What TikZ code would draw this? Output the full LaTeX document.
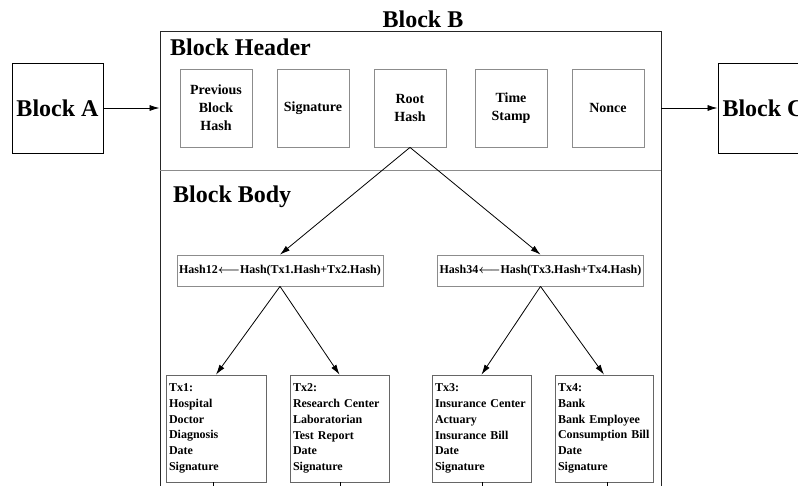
\documentclass[tikz,border=0pt]{standalone}
\usepackage{fontspec}
\setmainfont{Liberation Serif}
\usetikzlibrary{arrows.meta}
\begin{document}
\begin{tikzpicture}[x=1pt,y=-1pt,
  big/.style={font=\fontsize{24}{28}\selectfont\bfseries},
  blk/.style={draw=black,line width=0.9pt,minimum width=91pt,minimum height=90pt,inner sep=0pt,font=\fontsize{24}{28}\selectfont\bfseries},
  hdr/.style={draw=black!45,line width=0.8pt,minimum width=72pt,minimum height=78pt,inner sep=0pt,align=center,font=\fontsize{14}{18}\selectfont\bfseries},
  hsh/.style={draw=black!45,line width=0.8pt,minimum width=206pt,minimum height=31pt,inner sep=0pt,font=\fontsize{12}{14}\selectfont\bfseries\boldmath},
  tx/.style={draw=black!60,line width=0.8pt,text width=#1,minimum height=107pt,inner xsep=3pt,inner ysep=0pt,align=left,font=\fontsize{12}{15.7}\selectfont\bfseries},
  arr/.style={-{Latex[length=10pt,width=6pt]},line width=0.8pt},
  tick/.style={line width=0.8pt}]
\useasboundingbox (0,0) rectangle (798,485);
\clip (0,0) rectangle (798,485);
\fill[white] (0,0) rectangle (798,485);

\node[blk] (A) at (57.5,108) {Block A};
\node[draw=black!85,line width=0.9pt,minimum width=501pt,minimum height=458pt,inner sep=0pt] (B) at (410.5,260) {};
\node[big,anchor=base,inner sep=0pt] (Bt) at (423,27) {Block B};
\node[blk] (C) at (763.5,108) {Block C};

\node[big,anchor=base west,inner sep=0pt] (hdrt) at (170,55) {Block Header};
\node[big,anchor=base west,inner sep=0pt] (bodyt) at (173,202) {Block Body};

\node[hdr] (prev) at (216,108) {Previous\\Block\\Hash};
\node[hdr] (sig) at (313,108) {Signature};
\node[hdr] (root) at (410,108) {Root\\Hash};
\node[hdr] (time) at (511,108) {Time\\Stamp};
\node[hdr] (nonce) at (608,108) {Nonce};

\coordinate (dv) at (0,170);
\draw[black!45,line width=0.8pt] (B.west |- dv) -- (B.east |- dv);

\draw[arr] (A.east) -- (B.west |- A.east);
\draw[arr] (B.east |- C.west) -- (C.west);

\node[hsh] (h12) at (280,270.5) {Hash12$\longleftarrow$Hash(Tx1.Hash+Tx2.Hash)};
\node[hsh] (h34) at (540.5,270.5) {Hash34$\longleftarrow$Hash(Tx3.Hash+Tx4.Hash)};

\node[tx=94pt] (t1) at (216,428.5) {Tx1:\\Hospital\\Doctor\\Diagnosis\\Date\\Signature};
\node[tx=93pt] (t2) at (339.5,428.5) {Tx2:\\Research Center\\Laboratorian\\Test Report\\Date\\Signature};
\node[tx=93pt] (t3) at (481.5,428.5) {Tx3:\\Insurance Center\\Actuary\\Insurance Bill\\Date\\Signature};
\node[tx=92pt] (t4) at (604,428.5) {Tx4:\\Bank\\Bank Employee\\Consumption Bill\\Date\\Signature};

\draw[arr] (root.south) -- (h12.north);
\draw[arr] (root.south) -- (h34.north);
\draw[arr] (h12.south) -- (t1.north);
\draw[arr] (h12.south) -- (t2.north);
\draw[arr] (h34.south) -- (t3.north);
\draw[arr] (h34.south) -- (t4.north);

\coordinate (e1) at ([xshift=-3pt]t1.south |- 0,495);
\coordinate (e2) at ([xshift=1pt]t2.south |- 0,495);
\coordinate (e3) at ([xshift=1pt]t3.south |- 0,495);
\coordinate (e4) at ([xshift=3pt]t4.south |- 0,495);
\draw[tick] ([xshift=-3pt]t1.south) -- (e1);
\draw[tick] ([xshift=1pt]t2.south) -- (e2);
\draw[tick] ([xshift=1pt]t3.south) -- (e3);
\draw[tick] ([xshift=3pt]t4.south) -- (e4);
\end{tikzpicture}
\end{document}
